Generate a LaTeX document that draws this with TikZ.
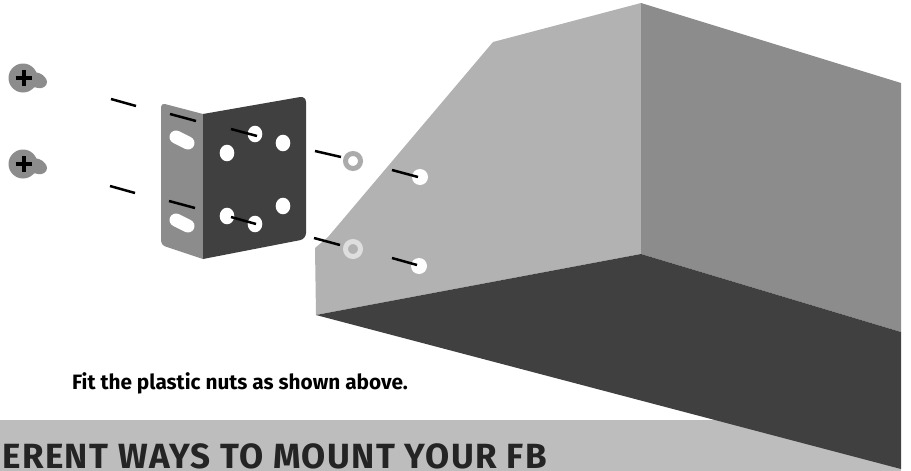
\documentclass[tikz,border=0pt]{standalone}
\usepackage{fontspec}
\setmainfont{Fira Sans}
\usetikzlibrary{positioning}
\definecolor{facelight}{gray}{0.70}
\definecolor{faceside}{gray}{0.55}
\definecolor{facedark}{gray}{0.25}
\definecolor{bandgray}{gray}{0.74}
\definecolor{bandtext}{gray}{0.14}
\tikzset{
  panel/.style={draw=none, fill=#1},
  hole/.style={fill=white, draw=none},
  guide/.style={line width=2.5pt, black},
  slot/.style={white, line width=13pt, line cap=round},
  nutring/.style={circle, draw=#1, line width=5pt, minimum size=15pt, inner sep=0pt},
  caption/.style={font=\bfseries\fontsize{20.8}{25}\selectfont, inner sep=0pt, anchor=base west},
}
\begin{document}
\begin{tikzpicture}[x=1pt, y=-1pt]
  \useasboundingbox (0,0) rectangle (911,471);
  % band
  \fill[bandgray] (0,420) rectangle (901,471);
  \node[caption, text=bandtext, font=\bfseries\fontsize{35}{40}\selectfont\addfontfeature{LetterSpace=4}] (banner) at (2,468) {ERENT WAYS TO MOUNT YOUR FB};
  % cabinet
  \fill[panel=facelight] (315,248) -- (328,237) -- (493,42) -- (641,3) -- (641,254) -- (316,315) -- cycle;
  \fill[panel=faceside] (641,3) -- (901,83) -- (901,332) -- (641,254) -- cycle;
  \fill[panel=facedark] (316,315) -- (641,254) -- (901,332) -- (901,469) -- cycle;
  % bracket
  \fill[panel=faceside] (203,114) [rounded corners=4pt] -- (161,103) -- (161,245) [sharp corners] -- (203,259) -- cycle;
  \fill[panel=facedark] (203,114) [rounded corners=6pt] -- (306,96) -- (306,239) [sharp corners] -- (203,259) -- cycle;
  % slots
  \draw[slot] (176,137) -- (188,143);
  \draw[slot] (176,220) -- (188,226);
  % bracket holes
  \foreach \hx/\hy in {255/134, 283/143, 227/153, 227/216, 283/206, 255/224} {
    \fill[hole] (\hx,\hy) ellipse (7.3pt and 8.3pt);
  }
  % cabinet holes
  \fill[hole] (420,177) ellipse (8pt and 8pt);
  \fill[hole] (419,266) ellipse (8pt and 8pt);
  % nuts
  \node[nutring=gray!66!white] (nutupper) at (353,161) {};
  \node[nutring=gray!26!white] (nutlower) at (353,249) {};
  % screws
  \foreach \sy in {78, 164} {
    \fill[panel=faceside] (23,\sy) circle (14.5pt);
    \fill[panel=faceside] (31,\sy-7) .. controls (35,\sy-5) and (36,\sy-6) .. (39,\sy-5)
      .. controls (44,\sy-3) and (47,\sy+1) .. (47,\sy+4)
      .. controls (47,\sy+8) and (43,\sy+11) .. (38,\sy+10)
      .. controls (36,\sy+9) and (34,\sy+9) .. (30,\sy+10) -- cycle;
    \draw[black, line width=4pt] (23.5,\sy-8) -- (23.5,\sy+8) (15.5,\sy) -- (31.5,\sy);
  }
  % guide lines
  \draw[guide] (111,99) -- (136,106);
  \draw[guide] (110,186) -- (135,193);
  \draw[guide] (170,114) -- (196,121);
  \draw[guide] (169,201) -- (195,208);
  \draw[guide] (231,129) -- (257,136);
  \draw[guide] (231,217) -- (256,224);
  \draw[guide] (315,151) -- (341,157);
  \draw[guide] (314,238) -- (340,245);
  \draw[guide] (392,170) -- (418,177);
  \draw[guide] (392,258) -- (417,265);
  % text
  \node[caption] (fitnote) at (72,389) {Fit the plastic nuts as shown above.};
\end{tikzpicture}
\end{document}
